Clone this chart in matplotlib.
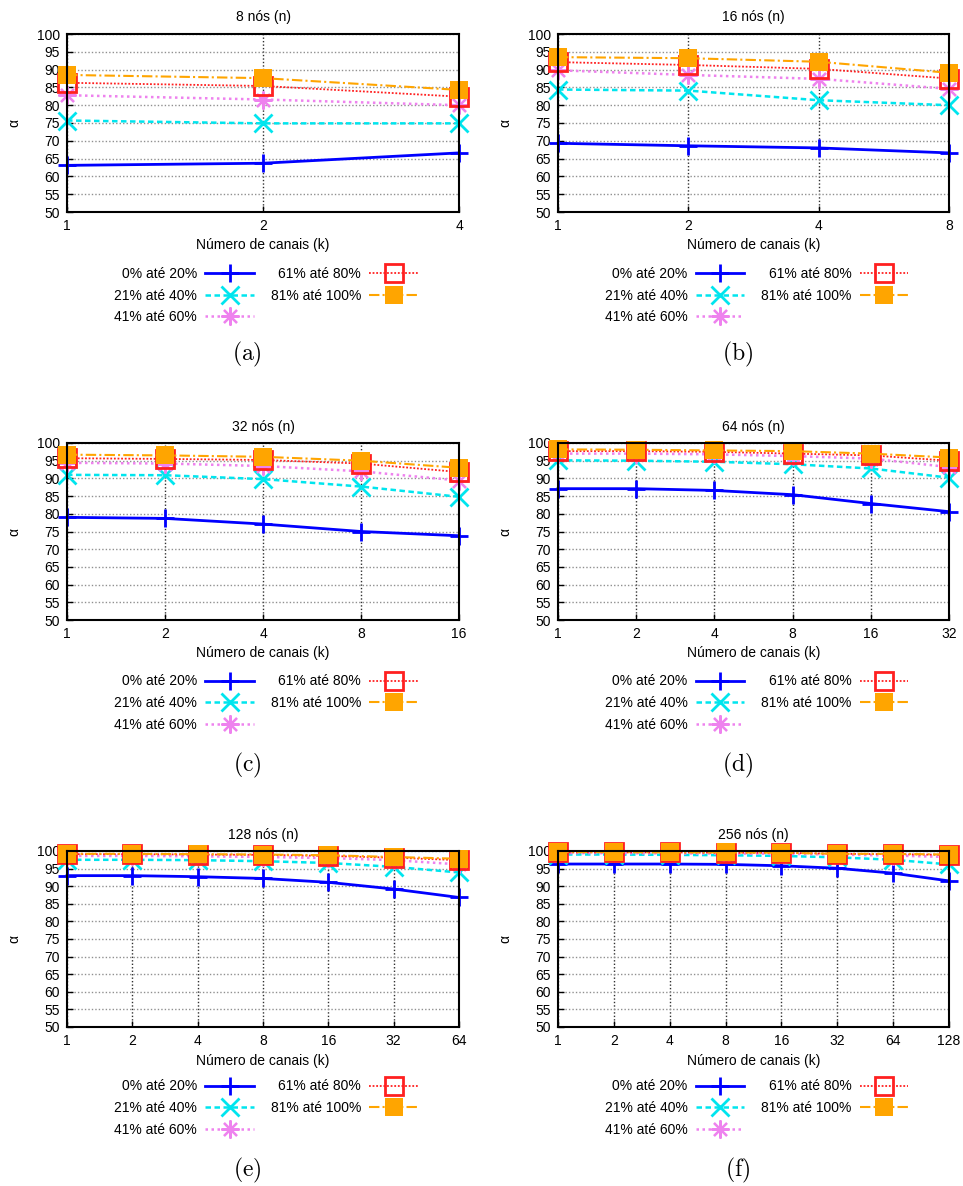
import matplotlib
matplotlib.use('Agg')
import matplotlib.pyplot as plt
from matplotlib.ticker import NullLocator

plt.rcParams['font.family'] = ['Liberation Sans', 'DejaVu Sans']
plt.rcParams['mathtext.fontset'] = 'cm'

# ---------------- data ----------------
series_labels = ['0% até 20%', '21% até 40%', '41% até 60%', '61% até 80%', '81% até 100%']

k_8 = [1, 2, 4]
alpha_8 = [
    [63.1, 63.7, 66.6],
    [75.7, 74.9, 74.9],
    [82.8, 81.6, 80.0],
    [86.3, 85.4, 82.4],
    [88.5, 87.6, 84.3],
]

k_16 = [1, 2, 4, 8]
alpha_16 = [
    [69.3, 68.6, 68.0, 66.6],
    [84.4, 84.1, 81.4, 80.0],
    [89.8, 88.5, 87.4, 84.6],
    [92.1, 91.3, 90.2, 87.5],
    [93.5, 93.2, 92.2, 89.1],
]

k_32 = [1, 2, 4, 8, 16]
alpha_32 = [
    [79.0, 78.7, 77.1, 75.0, 73.8],
    [91.0, 90.9, 89.8, 87.7, 84.8],
    [94.4, 94.2, 93.5, 92.0, 89.4],
    [95.7, 95.5, 95.2, 94.2, 91.8],
    [96.7, 96.5, 96.1, 95.0, 93.0],
]

k_64 = [1, 2, 4, 8, 16, 32]
alpha_64 = [
    [87.1, 87.1, 86.6, 85.4, 82.9, 80.6],
    [95.1, 95.0, 94.7, 94.0, 92.8, 90.2],
    [97.0, 97.0, 96.8, 96.3, 95.6, 93.2],
    [97.7, 97.7, 97.5, 97.0, 96.5, 95.0],
    [98.2, 98.1, 97.9, 97.7, 97.0, 95.9],
]

k_128 = [1, 2, 4, 8, 16, 32, 64]
alpha_128 = [
    [93.0, 93.0, 92.7, 92.2, 91.1, 89.2, 86.8],
    [97.5, 97.5, 97.4, 97.1, 96.6, 95.5, 93.9],
    [98.6, 98.6, 98.5, 98.3, 98.0, 97.4, 96.2],
    [99.1, 99.1, 99.0, 98.9, 98.6, 98.1, 97.4],
    [99.2, 99.2, 99.1, 99.0, 98.8, 98.3, 97.8],
]

k_256 = [1, 2, 4, 8, 16, 32, 64, 128]
alpha_256 = [
    [96.3, 96.3, 96.3, 96.2, 95.8, 95.1, 93.7, 91.5],
    [99.0, 99.0, 98.9, 98.8, 98.6, 98.2, 97.5, 96.2],
    [99.4, 99.4, 99.3, 99.3, 99.2, 99.0, 98.7, 98.3],
    [99.6, 99.6, 99.6, 99.5, 99.5, 99.2, 99.1, 98.9],
    [99.7, 99.7, 99.6, 99.6, 99.5, 99.2, 99.2, 99.0],
]

titles = ['8 nós (n)', '16 nós (n)', '32 nós (n)', '64 nós (n)', '128 nós (n)', '256 nós (n)']
panel_tags = ['(a)', '(b)', '(c)', '(d)', '(e)', '(f)']
y_ticks = list(range(50, 101, 5))

# ---------------- styles ----------------
styles = [
    dict(color='#0000ff', ls='-', lw=2.0, marker='+', ms=13, mew=2.0),
    dict(color='#00e5ee', ls=(0, (2.2, 1.4)), lw=1.8, marker='x', ms=12.5, mew=2.0),
    dict(color='#ee82ee', ls=(0, (1, 1.4)), lw=1.8, marker=(8, 2, 0), ms=13, mew=1.6),
    dict(color='#ff2020', ls=(0, (1, 1)), lw=1.3, marker='s', ms=12.5, mew=2.0, mfc='none'),
    dict(color='#ffa500', ls=(0, (5, 1.5, 1, 1.5)), lw=1.5, marker='s', ms=12.5, mew=0),
]

W, H = 963, 1186
fig = plt.figure(figsize=(W / 100, H / 100), dpi=100)

# pixel boxes (left, top, right, bottom)
cols = [(67, 459), (558, 949)]
rows = [(34, 212), (443, 620), (851, 1027)]
legend_y = [295.5, 703, 1108]
tag_y = [354, 765, 1170]
tag_x = [247, 738]

ks = [k_8, k_16, k_32, k_64, k_128, k_256]
data = [alpha_8, alpha_16, alpha_32, alpha_64, alpha_128, alpha_256]

for i in range(6):
    r, c = divmod(i, 2)
    l, rr = cols[c]
    t, b = rows[r]
    ax = fig.add_axes([l / W, 1 - b / H, (rr - l) / W, (b - t) / H])
    k = ks[i]
    handles = []
    for s, vals in enumerate(data[i]):
        st = styles[s]
        h, = ax.plot(k, vals, color=st['color'], linestyle=st['ls'], linewidth=st['lw'],
                     marker=st['marker'], markersize=st['ms'], markeredgewidth=st['mew'],
                     markerfacecolor=st.get('mfc', st['color']),
                     markeredgecolor=st['color'],
                     clip_on=False, zorder=3 + s)
        handles.append(h)
    ax.set_xscale('log', base=2)
    ax.set_xlim(k[0], k[-1])
    ax.set_xticks(k)
    ax.set_xticklabels([str(v) for v in k])
    ax.xaxis.set_minor_locator(NullLocator())
    ax.set_ylim(50, 100)
    ax.set_yticks(y_ticks)
    ax.tick_params(direction='in', length=4, width=1, labelsize=10, pad=5)
    ax.yaxis.grid(True, color='#909090', linestyle=(0, (1, 1.5)), linewidth=1)
    ax.xaxis.grid(True, color='#303030', linestyle=(0, (1, 1.5)), linewidth=1)
    ax.set_axisbelow(True)
    for sp in ax.spines.values():
        sp.set_linewidth(1.5)
        sp.set_zorder(10)
    ax.set_title(titles[i], fontsize=10, pad=9)
    ax.set_xlabel('Número de canais (k)', fontsize=10, labelpad=4)
    ax.set_ylabel('α', fontsize=10, labelpad=11)
    cx = (l + rr) / 2 + 3
    ax.legend(handles, series_labels, ncol=2, markerfirst=False, loc='center',
              bbox_to_anchor=(cx / W, 1 - legend_y[r] / H), bbox_transform=fig.transFigure,
              frameon=False, fontsize=10, handlelength=3.5, handletextpad=0.6,
              columnspacing=1.2, labelspacing=0.55)
    fig.text(tag_x[c] / W, 1 - tag_y[r] / H, r'$\mathrm{' + panel_tags[i] + '}$',
             ha='center', va='center', fontsize=17)

fig.savefig('out.png', dpi=100)
